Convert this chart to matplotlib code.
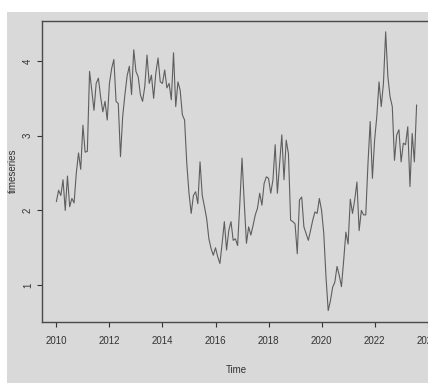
import matplotlib
matplotlib.use("Agg")
import matplotlib.pyplot as plt
import numpy as np
from matplotlib.patches import Rectangle

# monthly series, Jan 2010 onwards
start_year = 2010
values = [
    2.12, 2.27, 2.20, 2.41, 2.00, 2.46, 2.05, 2.16, 2.10, 2.50,
    2.77, 2.55, 3.14, 2.78, 2.79, 3.86, 3.61, 3.34, 3.70, 3.77,
    3.52, 3.32, 3.46, 3.21, 3.70, 3.90, 4.02, 3.46, 3.43, 2.72,
    3.26, 3.55, 3.80, 3.93, 3.55, 4.15, 3.86, 3.79, 3.55, 3.46,
    3.66, 4.08, 3.70, 3.81, 3.50, 3.84, 4.04, 3.72, 3.70, 3.88,
    3.64, 3.70, 3.48, 4.11, 3.39, 3.72, 3.61, 3.28, 3.21, 2.63,
    2.23, 1.96, 2.20, 2.25, 2.09, 2.65, 2.20, 2.05, 1.89, 1.62,
    1.49, 1.40, 1.50, 1.38, 1.29, 1.56, 1.85, 1.47, 1.73, 1.85,
    1.60, 1.62, 1.53, 2.09, 2.70, 2.11, 1.56, 1.78, 1.67, 1.80,
    1.94, 2.03, 2.23, 2.07, 2.36, 2.45, 2.43, 2.23, 2.41, 2.88,
    2.23, 2.63, 3.01, 2.41, 2.94, 2.76, 1.87, 1.85, 1.82, 1.42,
    2.14, 2.18, 1.78, 1.69, 1.60, 1.73, 1.87, 1.98, 1.96, 2.16,
    2.00, 1.69, 1.11, 0.66, 0.79, 0.97, 1.04, 1.25, 1.13, 0.98,
    1.33, 1.71, 1.55, 2.15, 1.96, 2.14, 2.38, 1.73, 2.00, 1.94,
    1.94, 2.63, 3.19, 2.43, 2.94, 3.26, 3.72, 3.39, 3.70, 4.39,
    3.79, 3.52, 3.39, 2.67, 3.01, 3.08, 2.65, 2.90, 2.88, 3.12,
    2.32, 3.03, 2.65, 3.41,
]
x_ticks = [2010, 2012, 2014, 2016, 2018, 2020, 2022, 2024]
y_ticks = [1, 2, 3, 4]

t = start_year + np.arange(len(values)) / 12.0
v = np.array(values)

plt.rcParams["font.family"] = ["Liberation Sans Narrow", "Liberation Sans"]
bg = "#d9d9d9"
ink = "#333333"

W, H = 428, 383
fig = plt.figure(figsize=(W / 100, H / 100), dpi=100, facecolor="white")
fig.patches.append(Rectangle((7 / W, 0), 1, (H - 12) / H, transform=fig.transFigure,
                             facecolor=bg, edgecolor="none", zorder=-10))

# plot region in pixels: left 42, right 431 (just past the edge), top 20.7, bottom 321.7
ax = fig.add_axes([42 / W, (H - 321.7) / H, (431 - 42) / W, (321.7 - 20.7) / H])
ax.set_facecolor(bg)
ax.plot(t, v, color="#5e5e5e", lw=0.8)

# R style 4% padding
px = 0.04 * (t[-1] - t[0])
py = 0.04 * (v.max() - v.min())
ax.set_xlim(t[0] - px, t[-1] + px)
ax.set_ylim(v.min() - py, v.max() + py)

ax.set_xticks(x_ticks)
ax.set_xticklabels([str(x) for x in x_ticks])
ax.set_yticks(y_ticks)
ax.set_yticklabels([str(y) for y in y_ticks], rotation=90, va="center")
ax.tick_params(axis="both", colors=ink, labelsize=7, length=3.6, width=0.8)
ax.tick_params(axis="x", pad=6.5)
ax.tick_params(axis="y", pad=3)
for s in ax.spines.values():
    s.set_color("#4a4a4a")
    s.set_linewidth(1)

fig.text(236.5 / W, 1 - 370 / H, "Time", ha="center", va="center", fontsize=7, color=ink)
fig.text(13 / W, 1 - 171 / H, "timeseries", rotation=90, ha="center", va="center",
         fontsize=7, color=ink)

fig.savefig("out.png", dpi=100, facecolor="white")
